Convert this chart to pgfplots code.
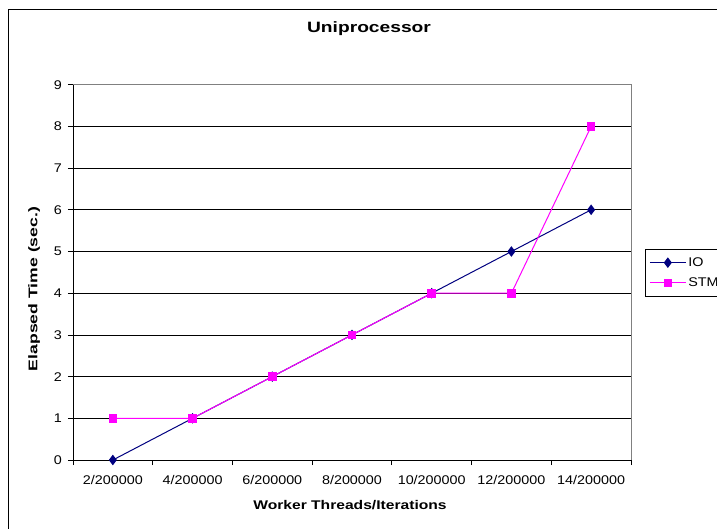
\documentclass[border=0pt]{standalone}
\usepackage{pgfplots}
\pgfplotsset{compat=1.18}
\usepackage{fontspec}
\setmainfont{Liberation Sans}
\newfontfamily\tickfont[FakeStretch=1.14]{Liberation Sans}
\newfontfamily\labfont[FakeStretch=1.24]{Liberation Sans Bold}
\newfontfamily\ylabfont[FakeStretch=1.4]{Liberation Sans Bold}
\newfontfamily\titfont[FakeStretch=1.28]{Liberation Sans Bold}
\definecolor{ionavy}{HTML}{000080}
\definecolor{stmmag}{HTML}{FF00FF}
\begin{document}
\begin{tikzpicture}
\path[use as bounding box] (0pt,0pt) rectangle (717pt,528pt);
\clip (0pt,0pt) rectangle (717pt,528pt);
\fill[white] (0pt,0pt) rectangle (717pt,528pt);
\draw[black, line width=1pt] (8.5pt,-20pt) -- (8.5pt,518.5pt) -- (760pt,518.5pt);
\begin{axis}[
  scale only axis,
  width=558pt, height=375.3pt,
  at={(73pt,68pt)}, anchor=south west,
  xmin=-0.5, xmax=6.5, ymin=0, ymax=9,
  xtick={-0.5,0.5,1.5,2.5,3.5,4.5,5.5,6.5},
  x tick label as interval,
  xticklabels={2/200000,4/200000,6/200000,8/200000,10/200000,12/200000,14/200000},
  ytick={0,1,...,9},
  /pgf/number format/assume math mode=true,
  tick align=outside,
  major tick length=5pt,
  tick style={black, line width=0.8pt},
  axis x line*=bottom, axis y line*=left,
  axis line style={black, line width=0.8pt, -},
  ymajorgrids,
  major grid style={black, line width=0.8pt},
  xticklabel style={font=\tickfont\fontsize{12.6}{14}\selectfont, inner sep=0pt, anchor=north, yshift=-10pt},
  yticklabel style={font=\tickfont\fontsize{12.6}{14}\selectfont, inner sep=0pt, anchor=east, xshift=-6pt},
  title={Uniprocessor},
  title style={font=\titfont\fontsize{15}{17}\selectfont, at={(axis description cs:0.5305,1.1325)}, anchor=center},
  xlabel={Worker Threads/Iterations},
  xlabel style={font=\labfont\fontsize{12.6}{14}\selectfont, at={(axis description cs:0.4964,-0.1199)}, anchor=center},
  ylabel={Elapsed Time (sec.)},
  ylabel style={font=\ylabfont\fontsize{12.6}{14}\selectfont, at={(axis description cs:-0.0699,0.4556)}, anchor=center, rotate=0},
  legend style={at={(axis description cs:1.025,0.562)}, anchor=north west, draw=black, line width=0.8pt, font=\tickfont\fontsize{12.6}{14}\selectfont, row sep=6pt, inner xsep=4pt, inner ysep=6pt},
  legend cell align=left,
  legend image code/.code={\draw[mark repeat=2,mark phase=2,#1] plot coordinates {(0pt,0pt) (18pt,0pt) (36pt,0pt)};},
  clip=false,
]
\draw[gray, line width=1pt] (rel axis cs:0,1) -- (rel axis cs:1,1) -- (rel axis cs:1,0);
\addplot[color=ionavy, line width=1pt, mark=diamond*, mark size=4.5pt, mark options={solid, fill=ionavy}]
  coordinates {(0,0) (1,1) (2,2) (3,3) (4,4) (5,5) (6,6)};
\addlegendentry{IO}
\addplot[color=stmmag, line width=1pt, mark=square*, mark size=3.8pt, mark options={solid, fill=stmmag}]
  coordinates {(0,1) (1,1) (2,2) (3,3) (4,4) (5,4) (6,8)};
\addlegendentry{STM}
\end{axis}
\end{tikzpicture}
\end{document}
